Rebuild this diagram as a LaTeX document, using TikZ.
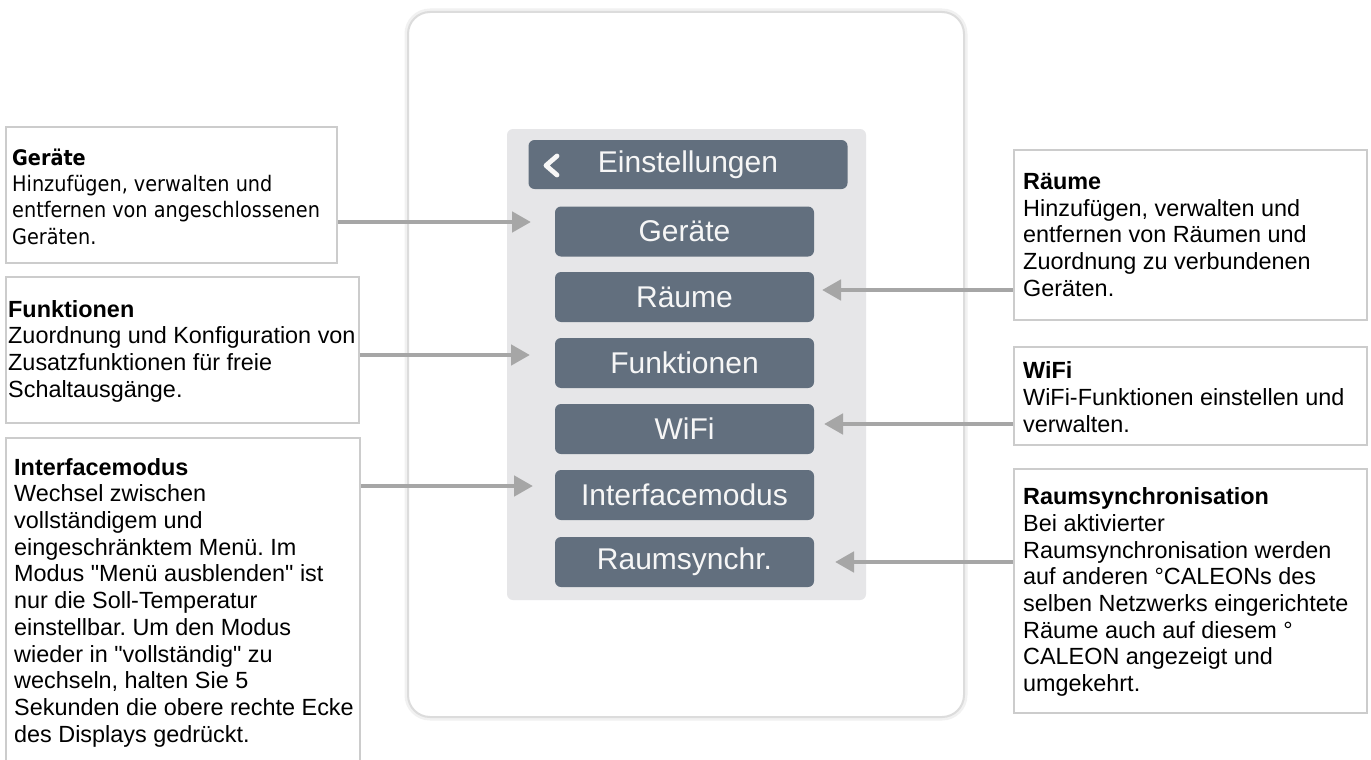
\documentclass[tikz,border=0pt]{standalone}
\usepackage{fontspec}
\setmainfont{Liberation Sans}[Ligatures=TeXOff]
\newfontfamily\tahomalike{DejaVu Sans Condensed}
\usetikzlibrary{arrows.meta}
\definecolor{btnfill}{RGB}{98,111,126}
\definecolor{panelfill}{RGB}{230,230,232}
\definecolor{boxline}{RGB}{204,204,204}
\definecolor{arrowgray}{RGB}{166,166,166}
\definecolor{frameline}{RGB}{220,220,220}
\definecolor{frameglow}{RGB}{241,241,241}
\definecolor{btntext}{RGB}{246,246,246}
\frenchspacing
\begin{document}
\begin{tikzpicture}[x=1pt,y=-1pt,
  infobox/.style={draw=boxline, line width=1.6pt, fill=white, inner sep=0pt},
  infotext/.style={inner sep=0pt, align=left, anchor=west, text=black, font=\fontsize{23.4}{26.7}\selectfont},
  menubtn/.style={fill=btnfill, rounded corners=6pt, minimum width=259pt, minimum height=50pt, inner sep=0pt, text=btntext, font=\fontsize{30}{34}\selectfont},
  pointer/.style={draw=arrowgray, line width=4.7pt, -{Triangle[length=19pt,width=20pt]}},
]
\useasboundingbox (0,0) rectangle (1371,760);
\clip (0,0) rectangle (1371,760);
\fill[white] (0,0) rectangle (1371,760);

% device frame and screen panel
\node[draw=frameline, line width=2pt, fill=white, rounded corners=22pt,
      preaction={draw=frameglow, line width=7pt, rounded corners=22pt},
      minimum width=556pt, minimum height=705pt, inner sep=0pt] (device) at (686,364.5) {};
\node[fill=panelfill, rounded corners=6pt, minimum width=359pt, minimum height=471pt, inner sep=0pt] (panel) at (686.5,364.5) {};

% menu buttons
\node[menubtn, minimum width=319pt, minimum height=49pt] (header) at (688,164.5) {Einstellungen};
\draw[btntext, line width=4.8pt, line cap=round, line join=round] (557,156) -- (546,165.5) -- (557,175);
\node[menubtn] (btngeraete) at (684.5,231.5) {Geräte};
\node[menubtn] (btnraeume) at (684.5,297) {Räume};
\node[menubtn] (btnfunk) at (684.5,363) {Funktionen};
\node[menubtn] (btnwifi) at (684.5,429) {WiFi};
\node[menubtn] (btniface) at (684.5,495) {Interfacemodus};
\node[menubtn] (btnsync) at (684.5,562) {Raumsynchr.};

% left info boxes
\node[infobox, minimum width=331pt, minimum height=136pt] (geraeteinfo) at (171.5,195) {};
\node[infotext, font=\tahomalike\fontsize{21.4}{26.3}\selectfont] (geraetetext) at (12,196.5)
  {\textbf{Geräte}\\Hinzufügen, verwalten und\\entfernen von angeschlossenen\\Geräten.};

\node[infobox, minimum width=353pt, minimum height=146pt] (funkinfo) at (182.5,350) {};
\node[infotext] (funktext) at (8,351)
  {\textbf{Funktionen}\\Zuordnung und Konfiguration von\\Zusatzfunktionen für freie\\Schaltausgänge.};

\node[infobox, minimum width=354pt, minimum height=362pt] (ifaceinfo) at (183,619) {};
\node[infotext, anchor=north west] (ifacetext) at (14,458)
  {\textbf{Interfacemodus}\\Wechsel zwischen\\vollständigem und\\eingeschränktem Menü. Im\\Modus "Menü ausblenden" ist\\nur die Soll-Temperatur\\einstellbar. Um den Modus\\wieder in "vollständig" zu\\wechseln, halten Sie 5\\Sekunden die obere rechte Ecke\\des Displays gedrückt.};

% right info boxes
\node[infobox, minimum width=353pt, minimum height=170pt] (raeumeinfo) at (1190.5,235) {};
\node[infotext] (raeumetext) at (1023,235)
  {\textbf{Räume}\\Hinzufügen, verwalten und\\entfernen von Räumen und\\Zuordnung zu verbundenen\\Geräten.};

\node[infobox, minimum width=353pt, minimum height=98pt] (wifiinfo) at (1190.5,396) {};
\node[infotext] (wifitext) at (1023,397)
  {\textbf{WiFi}\\WiFi-Funktionen einstellen und\\verwalten.};

\node[infobox, minimum width=353pt, minimum height=244pt] (syncinfo) at (1190.5,591) {};
\node[infotext] (synctext) at (1023,592)
  {\textbf{Raumsynchronisation}\\Bei aktivierter\\Raumsynchronisation werden\\auf anderen °CALEONs des\\selben Netzwerks eingerichtete\\Räume auch auf diesem °\\CALEON angezeigt und\\umgekehrt.};

% arrow end points
\coordinate (tipgeraete) at (531,222);
\coordinate (tipfunk) at (530,355);
\coordinate (tipiface) at (533,486);
\coordinate (tipraeume) at (822,290);
\coordinate (tipwifi) at (824,424);
\coordinate (tipsync) at (835,562);

\draw[pointer] (geraeteinfo.east |- tipgeraete) -- (tipgeraete);
\draw[pointer] (funkinfo.east |- tipfunk) -- (tipfunk);
\draw[pointer] (ifaceinfo.east |- tipiface) -- (tipiface);
\draw[pointer] (raeumeinfo.west |- tipraeume) -- (tipraeume);
\draw[pointer] (wifiinfo.west |- tipwifi) -- (tipwifi);
\draw[pointer] (syncinfo.west |- tipsync) -- (tipsync);
\end{tikzpicture}
\end{document}
